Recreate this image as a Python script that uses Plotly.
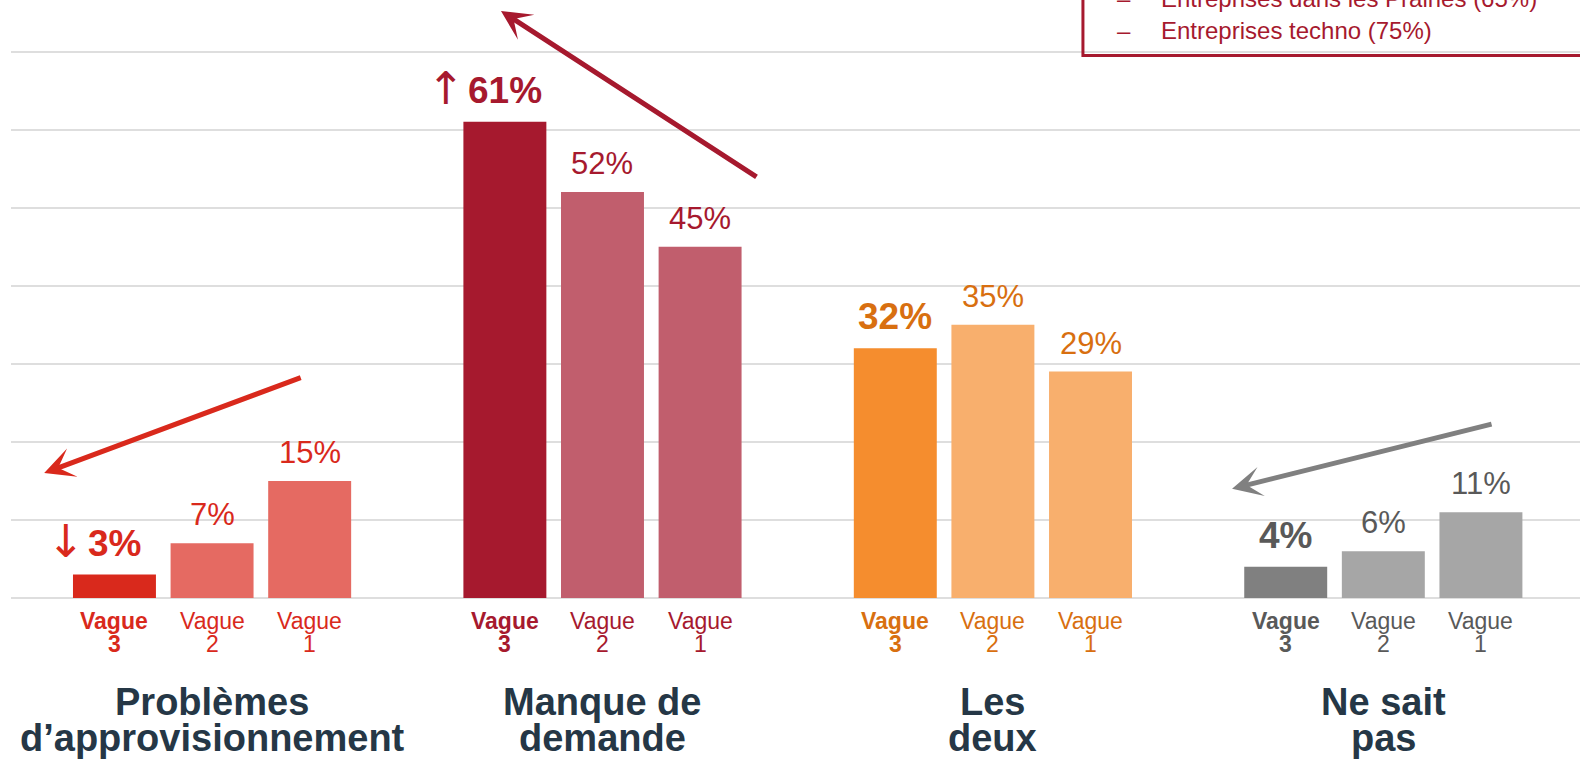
import plotly.graph_objects as go

# ---------------- data ----------------
groups = ["Problèmes d’approvisionnement", "Manque de demande", "Les deux", "Ne sait pas"]
group_title_lines = [["Problèmes", "d’approvisionnement"], ["Manque de", "demande"],
                     ["Les", "deux"], ["Ne sait", "pas"]]
waves = ["Vague 3", "Vague 2", "Vague 1"]
vague3 = [3, 61, 32, 4]
vague2 = [7, 52, 35, 6]
vague1 = [15, 45, 29, 11]
trend_marks = ["↓", "↑", "", ""]
legend_lines = ["Entreprises dans les Prairies (65%)", "Entreprises techno (75%)"]

# ---------------- styles ----------------
strong_colors = ["#d9291c", "#a6192e", "#f58d2e", "#808080"]
light_colors = ["#e56a62", "#c15e6d", "#f8af6d", "#a6a6a6"]
text_colors = ["#d9291c", "#a6192e", "#d86f10", "#595959"]
title_color = "#253746"
FONT = "Arial, 'Liberation Sans', sans-serif"
ARROW_FONT = "'DejaVu Sans', sans-serif"

series = [vague3, vague2, vague1]

cats, xs, ys, cols = [], [], [], []
for gi, g in enumerate(groups):
    for wi, w in enumerate(waves):
        c = f"{g}|{w}"
        cats.append(c)
        xs.append(c)
        ys.append(series[wi][gi])
        cols.append(strong_colors[gi] if wi == 0 else light_colors[gi])
    cats.append(f"gap{gi}")

fig = go.Figure(go.Bar(x=xs, y=ys, marker=dict(color=cols, line=dict(width=0)),
                       hoverinfo="skip"))

ann = []


def text_width(s, size):
    w = 0
    for ch in s:
        if ch == "%":
            w += 0.889
        elif ch.isdigit():
            w += 0.556
        else:
            w += 0.5
    return w * size


for gi, g in enumerate(groups):
    tc = text_colors[gi]
    for wi, w in enumerate(waves):
        c = f"{g}|{w}"
        v = series[wi][gi]
        bold = wi == 0
        size = 37 if bold else 31
        label = f"{v}%"
        ann.append(dict(x=c, y=v, xref="x", yref="y", text=label, showarrow=False,
                        yanchor="bottom", yshift=9,
                        font=dict(family=FONT, size=size, color=tc,
                                  weight="bold" if bold else "normal")))
        if bold and trend_marks[gi]:
            ann.append(dict(x=c, y=v, xref="x", yref="y", text=trend_marks[gi], showarrow=False,
                            xanchor="right", xshift=-(text_width(label, size) / 2 + 2),
                            yanchor="bottom", yshift=6, borderpad=0,
                            font=dict(family=ARROW_FONT, size=45, color=tc)))
        word, num = w.split(" ")
        ann.append(dict(x=c, y=0, xref="x", yref="y", text=word, showarrow=False,
                        yanchor="top", yshift=-9, borderpad=0,
                        font=dict(family=FONT, size=23, color=tc,
                                  weight="bold" if bold else "normal")))
        ann.append(dict(x=c, y=0, xref="x", yref="y", text=num, showarrow=False,
                        yanchor="top", yshift=-32, borderpad=0,
                        font=dict(family=FONT, size=23, color=tc,
                                  weight="bold" if bold else "normal")))
    mid = f"{g}|{waves[1]}"
    for li, line in enumerate(group_title_lines[gi]):
        ann.append(dict(x=mid, y=0, xref="x", yref="y", text=line, showarrow=False,
                        yanchor="top", yshift=-82 - 36 * li, borderpad=0,
                        font=dict(family=FONT, size=38, color=title_color, weight="bold")))

# trend arrows (tip in data coords, tail offset in pixels)
arrow_specs = [
    (-0.72, 16.0, 258, -96, strong_colors[0]),
    (3.96, 75.2, 257, 167, strong_colors[1]),
    (11.45, 14.0, 261, -65, strong_colors[3]),
]
for x, y, ax, ay, col in arrow_specs:
    ann.append(dict(x=x, y=y, xref="x", yref="y", ax=ax, ay=ay, axref="pixel", ayref="pixel",
                    text="", showarrow=True, arrowhead=3, arrowsize=1, arrowwidth=5,
                    arrowcolor=col, standoff=0))

# legend box (top-right, partially cut)
for li, line in enumerate(legend_lines):
    yb = 0.9766 - li * 0.0535
    ann.append(dict(x=0.7036, y=yb, xref="paper", yref="paper", text="–", showarrow=False,
                    xanchor="left", yanchor="bottom",
                    font=dict(family=FONT, size=24, color=strong_colors[1])))
    ann.append(dict(x=0.7318, y=yb, xref="paper", yref="paper", text=line, showarrow=False,
                    xanchor="left", yanchor="bottom",
                    font=dict(family=FONT, size=24, color=strong_colors[1])))

shapes = [dict(type="rect", xref="paper", yref="paper", x0=0.6832, x1=1.05, y0=0.907, y1=1.2,
               line=dict(color=strong_colors[1], width=3), fillcolor="rgba(0,0,0,0)")]

fig.update_layout(
    width=1580, height=759,
    margin=dict(l=11, r=0, t=0, b=161, pad=0),
    paper_bgcolor="white", plot_bgcolor="white",
    bargap=0.15, showlegend=False,
    annotations=ann, shapes=shapes,
    xaxis=dict(type="category", categoryorder="array", categoryarray=cats,
               range=[-1.06, 15.015], showticklabels=False, showgrid=False,
               zeroline=False, showline=False, ticks=""),
    yaxis=dict(range=[0, 76.6], dtick=10, showticklabels=False, showgrid=True,
               gridcolor="#dedede", gridwidth=2, zeroline=True, zerolinecolor="#dedede",
               zerolinewidth=2, showline=False, ticks=""),
)

fig.write_html("out.html", config={"displayModeBar": False},
               post_script="document.body.style.margin='0';document.body.style.overflow='hidden';")
